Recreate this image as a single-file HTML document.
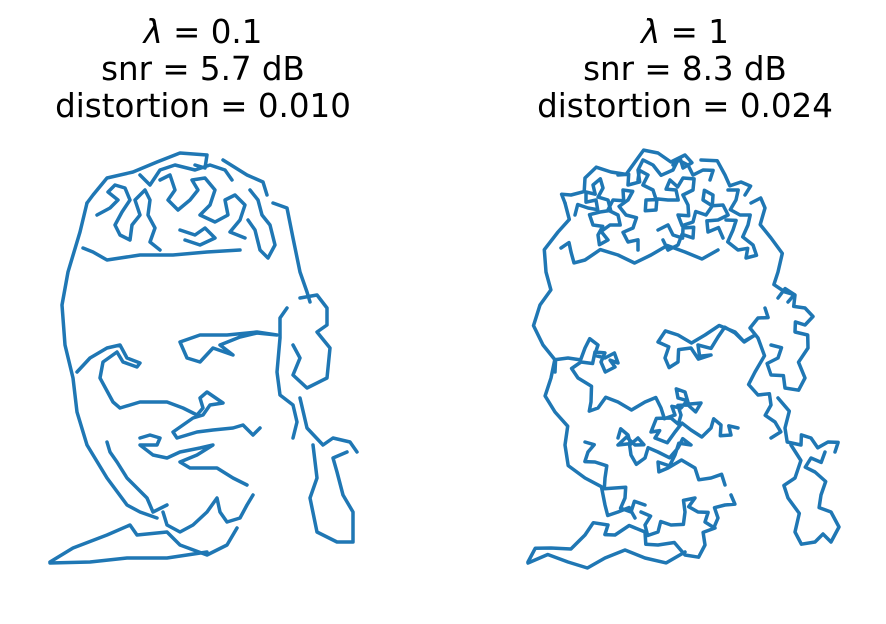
<!DOCTYPE html>
<html><head><meta charset="utf-8"><style>
html,body{margin:0;padding:0;background:#fff;width:886px;height:624px;overflow:hidden}
svg{display:block}
text{font-family:"DejaVu Sans","Liberation Sans",sans-serif;font-size:32.5px;fill:#000}
</style></head><body>
<svg id="fig" width="886" height="624" viewBox="0 0 886 624">
<g>
<text x="203" y="43" text-anchor="middle"><tspan font-style="italic">λ</tspan> = 0.1</text>
<text x="203" y="80" text-anchor="middle">snr = 5.7 dB</text>
<text x="203" y="117" text-anchor="middle">distortion = 0.010</text>
</g>
<g>
<text x="685" y="43" text-anchor="middle"><tspan font-style="italic">λ</tspan> = 1</text>
<text x="685" y="80" text-anchor="middle">snr = 8.3 dB</text>
<text x="685" y="117" text-anchor="middle">distortion = 0.024</text>
</g>
<g id="left"></g>
<g id="right"></g>
</svg>
<script>
const strokes = [
[[87,203],[80,232],[68,272],[62,305],[65,345],[73,378],[77,412],[87,445],[107,478],[127,505],[140,512],[157,518]],
[[87,203],[93,195],[107,178],[133,172],[157,162],[180,153],[207,155],[205,168],[195,165]],
[[223,160],[247,175],[263,182],[267,195]],
[[83,248],[93,252],[107,260],[140,255],[173,255],[207,252],[240,250]],
[[273,203],[287,208],[293,238],[300,272],[307,292],[310,302]],
[[300,298],[317,295],[327,308],[327,325],[317,332],[330,348],[327,378],[307,388],[293,375],[300,358],[293,345]],
[[287,308],[280,318],[280,338],[277,372],[280,395],[293,405],[297,422],[293,438]],
[[300,398],[307,428],[323,445],[333,438],[350,442],[357,452]],
[[313,445],[317,478],[310,498],[317,532],[337,542],[353,542],[353,512],[343,495],[337,472],[333,458],[347,452]],
[[50,562],[73,548],[107,535],[130,525],[137,535],[167,532],[180,545],[207,555],[227,545],[237,528]],
[[50,563],[90,562],[127,558],[167,558],[207,552]],
[[180,342],[187,358],[200,362],[213,348],[233,355],[220,345],[240,337],[257,333],[277,335],[257,332],[227,335],[200,335],[180,342]],
[[77,372],[90,358],[107,348],[120,345],[127,358],[140,363],[137,367],[123,362],[117,352],[103,362],[100,378],[113,402],[120,408],[140,402],[167,402],[183,408],[197,415],[203,408],[200,398],[207,392],[223,403],[210,405],[203,415],[193,418],[173,432],[177,438],[197,432],[213,430],[233,428],[243,425],[253,435],[260,428]],
[[107,442],[110,452],[117,462],[127,478],[137,488],[147,498],[153,512],[167,505]],
[[140,438],[150,435],[160,438],[157,445],[140,445],[153,455],[167,458],[180,452],[200,448],[213,445],[197,455],[180,462],[190,468],[217,468],[233,478],[247,485]],
[[163,512],[167,525],[180,532],[193,525],[207,512],[217,498],[220,512],[227,522],[240,518],[247,505],[253,495]],
[[97,215],[110,208],[118,200],[108,192],[115,185],[125,188],[130,200],[122,212],[115,225],[120,235],[130,240],[132,225],[140,215],[135,200],[145,190],[150,200],[148,215],[155,228],[150,242],[160,250]],
[[160,180],[170,175],[175,190],[168,200],[178,210],[190,200],[198,190],[192,180],[205,178],[215,190],[210,205],[200,215],[215,222],[228,215],[225,200],[235,195],[245,205],[240,220],[230,232],[245,238]],
[[140,175],[150,185],[160,170],[175,165],[195,170],[210,165],[225,170],[232,180]],
[[250,190],[258,200],[262,215],[270,225],[275,245],[268,258],[260,250],[255,230],[248,220]],
[[180,230],[195,235],[205,228],[215,238],[200,245],[185,240]]
];
const NS='http://www.w3.org/2000/svg';
function draw(g, pts, dx, jag){
  let out=[];
  for(let i=0;i<pts.length;i++){
    const p=pts[i];
    out.push([p[0]+dx,p[1]]);
    if(jag && i<pts.length-1){
      const q=pts[i+1];
      const mx=(p[0]+q[0])/2+dx, my=(p[1]+q[1])/2;
      const vx=q[0]-p[0], vy=q[1]-p[1], L=Math.hypot(vx,vy)||1;
      const s=(i%2?1:-1)*8;
      out.push([mx-vy/L*s, my+vx/L*s]);
    }
  }
  const pl=document.createElementNS(NS,'polyline');
  pl.setAttribute('points', out.map(a=>a[0].toFixed(1)+','+a[1].toFixed(1)).join(' '));
  pl.setAttribute('fill','none');
  pl.setAttribute('stroke','#1f77b4');
  pl.setAttribute('stroke-width','3.5');
  pl.setAttribute('stroke-linejoin','round');
  pl.setAttribute('stroke-linecap','round');
  
  
  g.appendChild(pl);
}
const L=document.getElementById('left'), R=document.getElementById('right');
strokes.forEach(s=>draw(L,s,0,false));
strokes.forEach(s=>draw(R,s,478,true));
</script>
</body></html>
